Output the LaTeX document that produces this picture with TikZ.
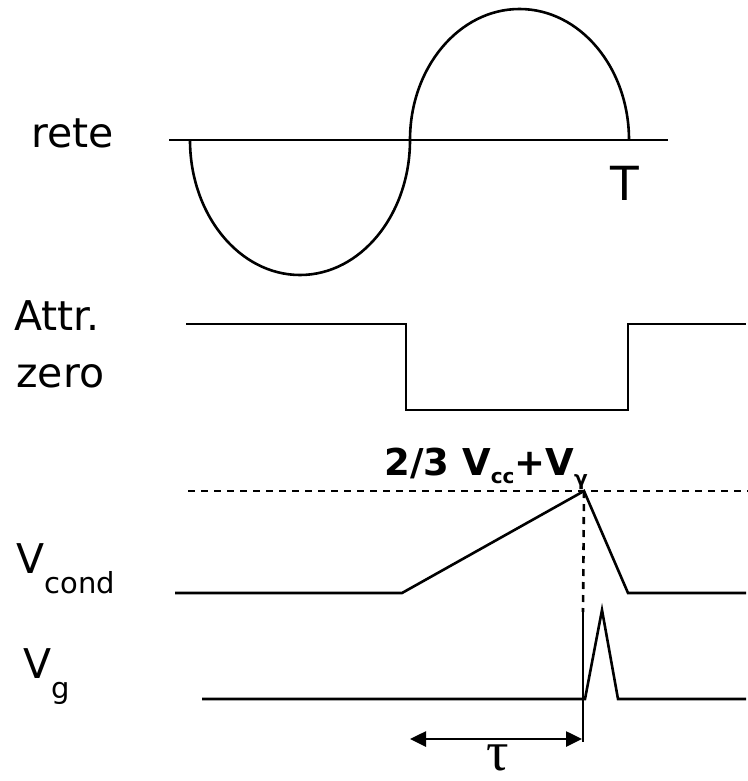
\documentclass[tikz,border=0pt]{standalone}
\usepackage{fontspec}
\setmainfont{DejaVu Sans}
\newfontfamily\taufont{Liberation Serif}
\usetikzlibrary{arrows.meta, positioning}

\newcommand{\lowsub}[2]{\raisebox{#1}{\fontsize{14.5}{16}\selectfont #2}}

\begin{document}
\begin{tikzpicture}[x=0.5pt, y=-0.5pt, line width=1.3pt,
  lbl/.style={inner sep=0pt, anchor=base west, font=\fontsize{20.5}{24}\selectfont},
  level/.style={dashed, dash pattern=on 3.5pt off 3pt},
  span/.style={{Triangle[length=8pt,width=7.5pt]}-{Triangle[length=8pt,width=7.5pt]}}]
\useasboundingbox (0,0) rectangle (748,781);

% Signal names
\node[lbl] (rete) at (30,148) {rete};
\node[lbl] (attr) at (13,330) {Attr.};
\node[lbl] (zero) at (15,387) {zero};
\node[lbl] (vcond) at (15,573) {V\lowsub{-10pt}{cond}};
\node[lbl] (vg) at (22,678) {V\lowsub{-10pt}{g}};

% Mains voltage
\coordinate (reteL) at (169,140);
\coordinate (reteR) at (668,140);
\draw (reteL) -- (reteR);
\draw (190,140) arc[start angle=180, end angle=0, x radius=110, y radius=135]
  arc[start angle=180, end angle=360, x radius=109.5, y radius=131];
\node[inner sep=0pt, anchor=base, font=\fontsize{23.5}{26}\selectfont] (T) at (625,200) {T};

% Zero crossing
\draw (186,324) -- (406,324) -- (406,410) -- (628,410) -- (628,324) -- (746,324);

% Threshold level
\coordinate (lvlL) at (188,491);
\coordinate (lvlR) at (748,491);
\draw[level] (lvlL) -- (lvlR);
\node[inner sep=0pt, anchor=base west, font=\bfseries\fontsize{18.5}{22}\selectfont] (soglia) at (383,475)
   {2/3 V\raisebox{-4pt}{\fontsize{10}{12}\selectfont\bfseries cc}+V\raisebox{-5pt}{\fontsize{10}{12}\selectfont\bfseries γ}};

% Capacitor voltage
\coordinate (peak) at (584,491);
\draw (175,593) -- (402,593) -- (peak) -- (628,593) -- (746,593);

% Marker
\coordinate (mark) at (583,612);
\coordinate (markB) at (583,742);
\draw[level] (peak) -- (mark);
\draw (mark) -- (markB);

% Gate pulse
\draw (202,699) -- (585,699) -- (602,610) -- (618,699) -- (746,699);

% Delay tau
\coordinate (tauL) at (410,739);
\coordinate (tauR) at (582,739);
\draw[span] (tauL) -- (tauR);
\node[inner sep=0pt, text depth=0pt, anchor=base, font=\taufont\fontsize{28}{30}\selectfont] (tau) at (498,770) {τ};
\end{tikzpicture}
\end{document}
